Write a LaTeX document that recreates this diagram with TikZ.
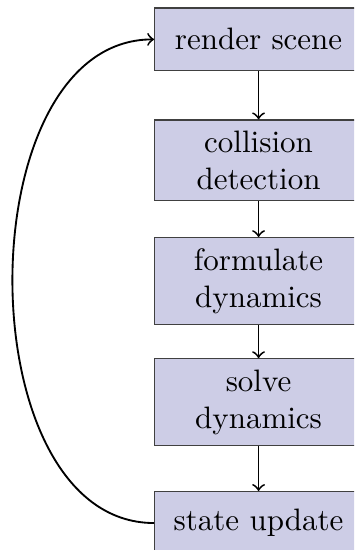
\documentclass[tikz,border=0pt]{standalone}
\usepackage{xcolor}
\usetikzlibrary{positioning}
\definecolor{boxfill}{RGB}{205,205,230}

\begin{document}
\begin{tikzpicture}[node distance=39pt, on grid]
\tikzstyle{stage}=[draw=black!75, fill=boxfill, text width=60pt, align=center, inner sep=3.5pt, minimum height=20.3pt]
\tikzstyle{flow}=[semithick, ->]
\clip (-83.4pt,12.7pt) rectangle (30.8pt,-164.7pt);
% pipeline stages, top to bottom
\node [stage] (render) {render scene};
\node [stage, below=of render] (collision) {collision detection};
\node [stage, below=of collision] (formulate) {formulate dynamics};
\node [stage, below=of formulate] (solve) {solve dynamics};
\node [stage, below=of solve] (update) {state update};
\draw [flow] (render) -- (collision);
\draw [flow] (collision) -- (formulate);
\draw [flow] (formulate) -- (solve);
\draw [flow] (solve) -- (update);
% loop back to the start
\draw [flow] (update.west) to [out=180, in=180] (render.west);
\end{tikzpicture}
\end{document}
